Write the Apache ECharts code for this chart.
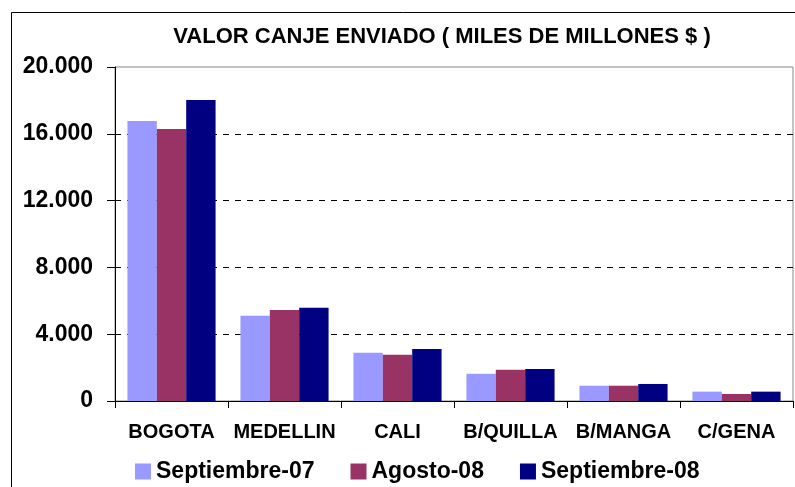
<!DOCTYPE html>
<html>
<head>
<meta charset="utf-8">
<script src="https://cdn.jsdelivr.net/npm/echarts@6/dist/echarts.min.js"></script>
<style>html,body{margin:0;padding:0;background:#fff}#c{width:795px;height:487px}</style>
</head>
<body>
<div id="c"></div>
<script>
var categories = ['BOGOTA', 'MEDELLIN', 'CALI', 'B/QUILLA', 'B/MANGA', 'C/GENA'];
var seriesNames = ['Septiembre-07', 'Agosto-08', 'Septiembre-08'];
var sep07 = [16770, 5110, 2890, 1630, 915, 560];
var ago08 = [16290, 5450, 2770, 1870, 915, 420];
var sep08 = [18020, 5590, 3110, 1920, 1020, 560];
var yTicks = [0, 4000, 8000, 12000, 16000, 20000];
var colors = ['#9999FF', '#993366', '#000080'];

var chart = echarts.init(document.getElementById('c'), null, {renderer: 'canvas'});
var font = 'Liberation Sans, Arial, sans-serif';
function fmt(v) { return String(v).replace(/\B(?=(\d{3})+(?!\d))/g, '.'); }
var dataSets = [sep07, ago08, sep08];
chart.setOption({
  animation: false,
  title: {
    text: 'VALOR CANJE ENVIADO ( MILES DE MILLONES $ )',
    left: 437, top: 21, textAlign: 'center',
    textStyle: {fontFamily: font, fontWeight: 'bold', fontSize: 22, color: '#000'}
  },
  graphic: [{
    type: 'polyline',
    shape: {points: [[11.5, 490], [11.5, 12.5], [800, 12.5]]},
    style: {stroke: '#000', lineWidth: 1, fill: null}
  }],
  legend: {
    data: seriesNames,
    left: 130, top: 455,
    itemWidth: 16, itemHeight: 16, itemGap: 36,
    icon: 'rect',
    textStyle: {fontFamily: font, fontWeight: 'bold', fontSize: 23, color: '#000'}
  },
  grid: {
    left: 115, right: 2, top: 67, bottom: 86,
    show: true, borderColor: '#888', borderWidth: 1, backgroundColor: 'transparent'
  },
  xAxis: {
    type: 'category',
    data: categories,
    axisLine: {lineStyle: {color: '#000', width: 1}},
    axisTick: {show: true, interval: 0, length: 7, alignWithLabel: false, lineStyle: {color: '#000'}},
    axisLabel: {interval: 0, hideOverlap: false, margin: 21, fontFamily: font, fontWeight: 'bold', fontSize: 20, color: '#000'}
  },
  yAxis: {
    type: 'value',
    min: yTicks[0], max: yTicks[yTicks.length - 1], interval: yTicks[1] - yTicks[0],
    axisLine: {show: true, lineStyle: {color: '#000', width: 1}},
    axisTick: {show: true, length: 8, lineStyle: {color: '#000'}},
    axisLabel: {margin: 22, fontFamily: font, fontWeight: 'bold', fontSize: 23, color: '#000', formatter: fmt},
    splitLine: {show: true, showMinLine: false, showMaxLine: false, lineStyle: {color: '#000', type: [6, 6], width: 1}}
  },
  series: seriesNames.map(function (n, i) {
    return {
      name: n, type: 'bar', data: dataSets[i],
      itemStyle: {color: colors[i]},
      barGap: '0%', barCategoryGap: '22%'
    };
  })
});
</script>
</body>
</html>
